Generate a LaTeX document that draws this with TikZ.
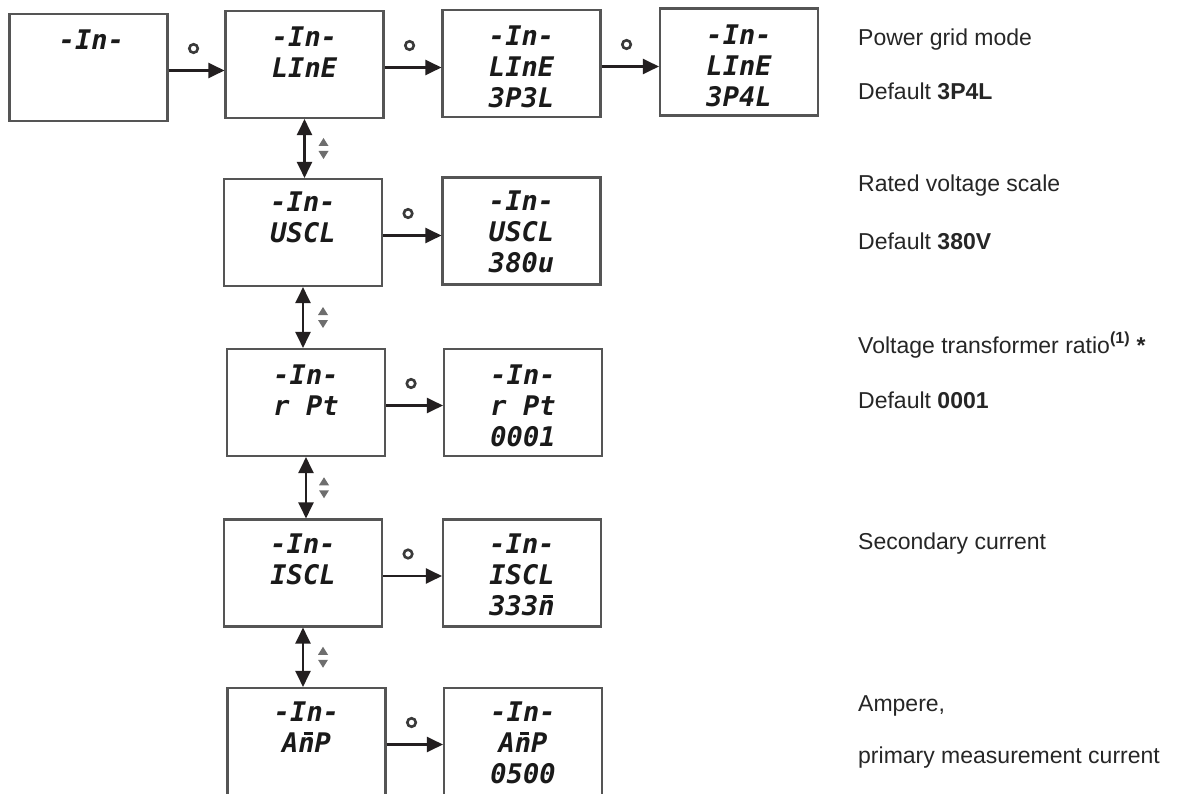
\documentclass[tikz,border=0pt]{standalone}
\usepackage{fontspec}
\setmainfont{Liberation Sans}
\newfontfamily\lcdfont{DejaVu Sans Mono}
\usetikzlibrary{arrows.meta,calc}
\definecolor{boxgray}{HTML}{555555}
\definecolor{arrowblack}{HTML}{231F20}
\definecolor{lcdblack}{HTML}{1A1A1A}
\definecolor{keygray}{HTML}{3A3A3A}
\definecolor{icongray}{HTML}{6E6E6E}
\definecolor{textblack}{HTML}{262626}
\newcommand\nbar{\ooalign{n\cr\hfil\kern0.12em\raisebox{0.66em}{\rule{0.34em}{0.11em}}\hfil\cr}}
\begin{document}
\begin{tikzpicture}[x=1pt,y=-1pt,
  screen/.style={draw=boxgray, line width=2.1pt, minimum width=158pt, minimum height=107pt, inner sep=0pt},
  lcd/.style={font=\lcdfont\bfseries\itshape\fontsize{27}{31}\selectfont, align=center, inner sep=0pt, anchor=north, text=lcdblack},
  flow/.style={draw=arrowblack, line width=2.1pt, -{Triangle[length=16pt,width=15pt]}},
  both/.style={draw=arrowblack, line width=2.1pt, {Triangle[length=16pt,width=15pt]}-{Triangle[length=16pt,width=15pt]}},
  okkey/.style={circle, draw=keygray, line width=2.6pt, minimum size=8.5pt, inner sep=0pt},
  desc/.style={font=\fontsize{23}{27}\selectfont, anchor=base west, inner sep=0pt, text=textblack}]
\useasboundingbox (0,0) rectangle (1183,794);
\fill[white] (0,0) rectangle (1183,794);

% screens
\node[screen] (s1) at (88.5,67.5) {};
\node[screen] (s2) at (304.5,64.5) {};
\node[screen] (s3) at (521.5,63.5) {};
\node[screen] (s4) at (739,62) {};
\node[screen] (v1) at (303,232.5) {};
\node[screen] (v2) at (521.5,231) {};
\node[screen] (p1) at (306,402.5) {};
\node[screen] (p2) at (523,402.5) {};
\node[screen] (i1) at (303,573) {};
\node[screen] (i2) at (522,573) {};
\node[screen] (a1) at (306.5,741.5) {};
\node[screen] (a2) at (523,741.5) {};

% screen texts
\node[lcd] (s1t) at ([xshift=3pt,yshift=-17pt]s1.north) {-In-};
\node[lcd] (s2t) at ([yshift=-17pt]s2.north) {-In-\\LInE};
\node[lcd] (s3t) at ([yshift=-17pt]s3.north) {-In-\\LInE\\3P3L};
\node[lcd] (s4t) at ([yshift=-17pt]s4.north) {-In-\\LInE\\3P4L};
\node[lcd] (v1t) at ([yshift=-14pt]v1.north) {-In-\\USCL};
\node[lcd] (v2t) at ([yshift=-14pt]v2.north) {-In-\\USCL\\380u};
\node[lcd] (p1t) at ([yshift=-17pt]p1.north) {-In-\\r Pt};
\node[lcd] (p2t) at ([yshift=-17pt]p2.north) {-In-\\r Pt\\0001};
\node[lcd] (i1t) at ([yshift=-15pt]i1.north) {-In-\\ISCL};
\node[lcd] (i2t) at ([yshift=-15pt]i2.north) {-In-\\ISCL\\333\nbar};
\node[lcd] (a1t) at ([yshift=-15pt]a1.north) {-In-\\A\nbar P};
\node[lcd] (a2t) at ([yshift=-15pt]a2.north) {-In-\\A\nbar P\\0500};

% horizontal arrows with OK keys
\foreach \l/\r in {s1/s2,s2/s3,s3/s4,v1/v2,p1/p2,i1/i2,a1/a2}{
  \draw[flow] ([yshift=-3pt]\l.east) -- ([yshift=-3pt]\l.east -| \r.west);
  \node[okkey] (k\l) at ([xshift=25pt,yshift=19pt]\l.east) {};
}

% vertical arrows with up/down icons
\draw[both] (s2.south) -- (s2.south |- v1.north);
\draw[both] (v1.south) -- (v1.south |- p1.north);
\draw[both] (p1.south) -- (p1.south |- i1.north);
\draw[both] (i1.south) -- (i1.south |- a1.north);
\coordinate (u1) at ($(s2.south)!0.5!(s2.south |- v1.north)+(19,0)$);
\coordinate (u2) at ($(v1.south)!0.5!(v1.south |- p1.north)+(20,0)$);
\coordinate (u3) at ($(p1.south)!0.5!(p1.south |- i1.north)+(18,0)$);
\coordinate (u4) at ($(i1.south)!0.5!(i1.south |- a1.north)+(20,0)$);
\foreach \c in {u1,u2,u3,u4}{
  \fill[icongray] ([shift={(-5,-2.5)}]\c) -- ([shift={(5,-2.5)}]\c) -- ([shift={(0,-10.5)}]\c) -- cycle;
  \fill[icongray] ([shift={(-5,2.5)}]\c) -- ([shift={(5,2.5)}]\c) -- ([shift={(0,10.5)}]\c) -- cycle;
}

% descriptions
\node[desc] (d1) at (858,46) {Power grid mode};
\node[desc] (d2) at (858,100) {Default \textbf{3P4L}};
\node[desc] (d3) at (858,192) {Rated voltage scale};
\node[desc] (d4) at (858,250) {Default \textbf{380V}};
\node[desc] (d5) at (858,353) {Voltage transformer ratio\textsuperscript{\textbf{(1)}} \textbf{*}};
\node[desc] (d6) at (858,408) {Default \textbf{0001}};
\node[desc] (d7) at (858,549) {Secondary current};
\node[desc] (d8) at (858,711) {Ampere,};
\node[desc] (d9) at (858,763) {primary measurement current};
\end{tikzpicture}
\end{document}
